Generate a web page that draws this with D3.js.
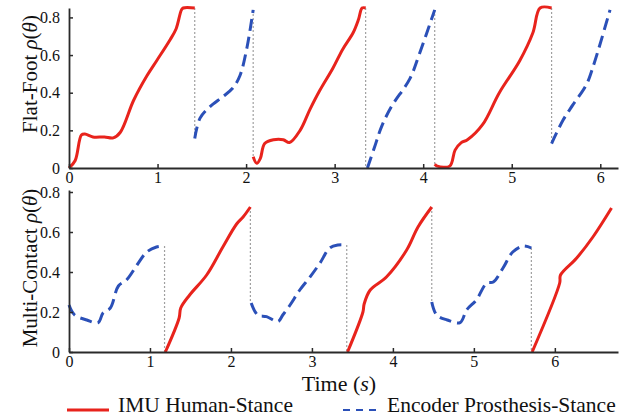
<!DOCTYPE html>
<html>
<head>
<meta charset="utf-8">
<script src="https://cdn.jsdelivr.net/npm/d3@7"></script>
<style>
  body { margin: 0; background: #fff; }
  svg { display: block; }
  text { font-family: "Liberation Serif", "Times New Roman", serif; }
</style>
</head>
<body>
<svg id="chart" width="643" height="418"></svg>
<script>
// ---- data (time in s, rho value) ----
// Flat-Foot panel
var ffImu = [
    [[0, 0], [0.07, 0.04], [0.14, 0.175], [0.18, 0.18], [0.27, 0.165], [0.4, 0.165], [0.5, 0.16], [0.58, 0.19], [0.73, 0.36], [0.88, 0.49], [0.99, 0.57], [1.14, 0.68], [1.21, 0.74], [1.27, 0.84], [1.29, 0.85], [1.42, 0.85]],
    [[2.08, 0.06], [2.12, 0.025], [2.16, 0.05], [2.21, 0.13], [2.31, 0.15], [2.42, 0.15], [2.49, 0.135], [2.61, 0.2], [2.72, 0.31], [2.83, 0.41], [2.98, 0.53], [3.09, 0.63], [3.21, 0.72], [3.27, 0.79], [3.31, 0.85], [3.35, 0.85]],
    [[4.13, 0.02], [4.16, 0.01], [4.3, 0.01], [4.36, 0.095], [4.43, 0.135], [4.5, 0.15], [4.67, 0.23], [4.86, 0.4], [5.09, 0.57], [5.24, 0.72], [5.32, 0.85], [5.45, 0.85]]
];
var ffEnc = [
    [[1.42, 0.157], [1.48, 0.265], [1.59, 0.325], [1.74, 0.38], [1.85, 0.425], [1.93, 0.49], [2.01, 0.64], [2.08, 0.84]],
    [[3.37, 0], [3.45, 0.11], [3.53, 0.22], [3.64, 0.325], [3.85, 0.475], [3.96, 0.61], [4.13, 0.84]],
    [[5.45, 0.13], [5.58, 0.255], [5.69, 0.335], [5.84, 0.44], [5.92, 0.54], [6.11, 0.84]]
];
// Multi-Contact panel
var mcImu = [
    [[1.19, 0], [1.36, 0.17], [1.38, 0.22], [1.49, 0.285], [1.7, 0.385], [1.9, 0.525], [2.07, 0.64], [2.15, 0.675], [2.24, 0.725]],
    [[3.44, 0], [3.63, 0.2], [3.645, 0.24], [3.72, 0.31], [3.92, 0.375], [4.17, 0.51], [4.31, 0.625], [4.48, 0.725]],
    [[5.72, 0], [6.06, 0.345], [6.07, 0.385], [6.27, 0.47], [6.47, 0.575], [6.7, 0.72]]
];
var mcEnc = [
    [[0, 0.235], [0.07, 0.185], [0.22, 0.16], [0.36, 0.147], [0.42, 0.195], [0.51, 0.22], [0.61, 0.33], [0.71, 0.36], [0.84, 0.435], [0.96, 0.5], [1.08, 0.525], [1.18, 0.53]],
    [[2.25, 0.245], [2.33, 0.185], [2.44, 0.177], [2.58, 0.152], [2.64, 0.185], [2.73, 0.235], [2.85, 0.31], [2.98, 0.377], [3.1, 0.445], [3.22, 0.52], [3.32, 0.535], [3.43, 0.535]],
    [[4.48, 0.25], [4.54, 0.185], [4.67, 0.16], [4.83, 0.147], [4.91, 0.21], [5.03, 0.26], [5.16, 0.345], [5.24, 0.35], [5.36, 0.42], [5.48, 0.5], [5.61, 0.53], [5.71, 0.52]]
];
var yTicks = [0, 0.2, 0.4, 0.6, 0.8];
var xTicks = [0, 1, 2, 3, 4, 5, 6];
var legendLabels = ['IMU Human-Stance', 'Encoder Prosthesis-Stance'];

var red = '#e8231c', blue = '#2b50b8', axisCol = '#2a2a2a';
var serif = '"Liberation Serif", "Times New Roman", serif';

var svg = d3.select('#chart');

function drawPanel(opt) {
    var x = d3.scaleLinear().domain([0, opt.xMax]).range([69, 618]);
    var y = d3.scaleLinear().domain([0, opt.yMax]).range([opt.bottom, opt.top]);
    var g = svg.append('g');

    // switch markers (gray dotted) between consecutive stance segments
    var segs = opt.imu.concat(opt.enc);
    segs.sort(function(a, b) { return a[0][0] - b[0][0]; });
    for (var i = 1; i < segs.length; i++) {
        var prev = segs[i - 1], cur = segs[i];
        var xs = x(prev[prev.length - 1][0]);
        g.append('line')
            .attr('x1', xs).attr('x2', xs)
            .attr('y1', y(prev[prev.length - 1][1]))
            .attr('y2', y(cur[0][1]))
            .attr('stroke', '#a0a0a0')
            .attr('stroke-width', 1.2)
            .attr('stroke-dasharray', '2,2');
    }

    var line = d3.line()
        .x(function(d) { return x(d[0]); })
        .y(function(d) { return y(d[1]); })
        .curve(d3.curveCatmullRom.alpha(0.5));

    g.selectAll('path.imu')
        .data(opt.imu)
        .enter()
        .append('path')
        .attr('class', 'imu')
        .attr('d', line)
        .attr('fill', 'none')
        .attr('stroke', red)
        .attr('stroke-width', 3);

    g.selectAll('path.enc')
        .data(opt.enc)
        .enter()
        .append('path')
        .attr('class', 'enc')
        .attr('d', line)
        .attr('fill', 'none')
        .attr('stroke', blue)
        .attr('stroke-width', 3)
        .attr('stroke-dasharray', '12,6');

    // axes
    var xAxis = d3.axisBottom(x).tickValues(xTicks).tickSizeInner(-4).tickSizeOuter(0).tickPadding(4)
        .tickFormat(d3.format('d'));
    var yAxis = d3.axisLeft(y).tickValues(yTicks).tickSizeInner(-4).tickSizeOuter(0).tickPadding(9)
        .tickFormat(function(d) { return d === 0 ? '0' : d3.format('.1f')(d); });

    var gx = g.append('g').attr('transform', 'translate(0,' + opt.bottom + ')').call(xAxis);
    var gy = g.append('g').attr('transform', 'translate(69,0)').call(yAxis);
    [gx, gy].forEach(function(a) {
        a.attr('font-family', serif).attr('font-size', 16);
        a.select('.domain').attr('stroke', axisCol).attr('stroke-width', 1.8);
        a.selectAll('.tick line').attr('stroke', axisCol).attr('stroke-width', 1.5);
        a.selectAll('.tick text').attr('fill', '#111');
    });

    // y label
    var lab = svg.append('text')
        .attr('transform', 'translate(37,' + opt.labelY + ') rotate(-90)')
        .attr('text-anchor', 'middle')
        .attr('fill', '#111')
        .style('font-size', '21px');
    lab.append('tspan').text(opt.label + ' ');
    lab.append('tspan').style('font-style', 'italic').text('ρ');
    lab.append('tspan').text('(');
    lab.append('tspan').style('font-style', 'italic').text('θ');
    lab.append('tspan').text(')');
}

drawPanel({ imu: ffImu, enc: ffEnc, xMax: 6.2, yMax: 0.85, top: 8, bottom: 168, label: 'Flat-Foot', labelY: 74 });
drawPanel({ imu: mcImu, enc: mcEnc, xMax: 6.78, yMax: 0.81, top: 190, bottom: 352, label: 'Multi-Contact', labelY: 268 });

// x label
var xl = svg.append('text')
    .attr('x', 339).attr('y', 391)
    .attr('text-anchor', 'middle')
    .attr('fill', '#111')
    .style('font-size', '22px');
xl.append('tspan').text('Time (');
xl.append('tspan').style('font-style', 'italic').text('s');
xl.append('tspan').text(')');

// legend
svg.append('line').attr('x1', 67).attr('x2', 109).attr('y1', 410).attr('y2', 410)
    .attr('stroke', red).attr('stroke-width', 3);
svg.append('text').attr('x', 118).attr('y', 412).attr('fill', '#111')
    .style('font-size', '21.5px').text(legendLabels[0]);
svg.append('line').attr('x1', 343).attr('x2', 378).attr('y1', 410).attr('y2', 410)
    .attr('stroke', blue).attr('stroke-width', 2).attr('stroke-dasharray', '7,6');
svg.append('text').attr('x', 387).attr('y', 412).attr('fill', '#111')
    .style('font-size', '21.5px').text(legendLabels[1]);
</script>
</body>
</html>
